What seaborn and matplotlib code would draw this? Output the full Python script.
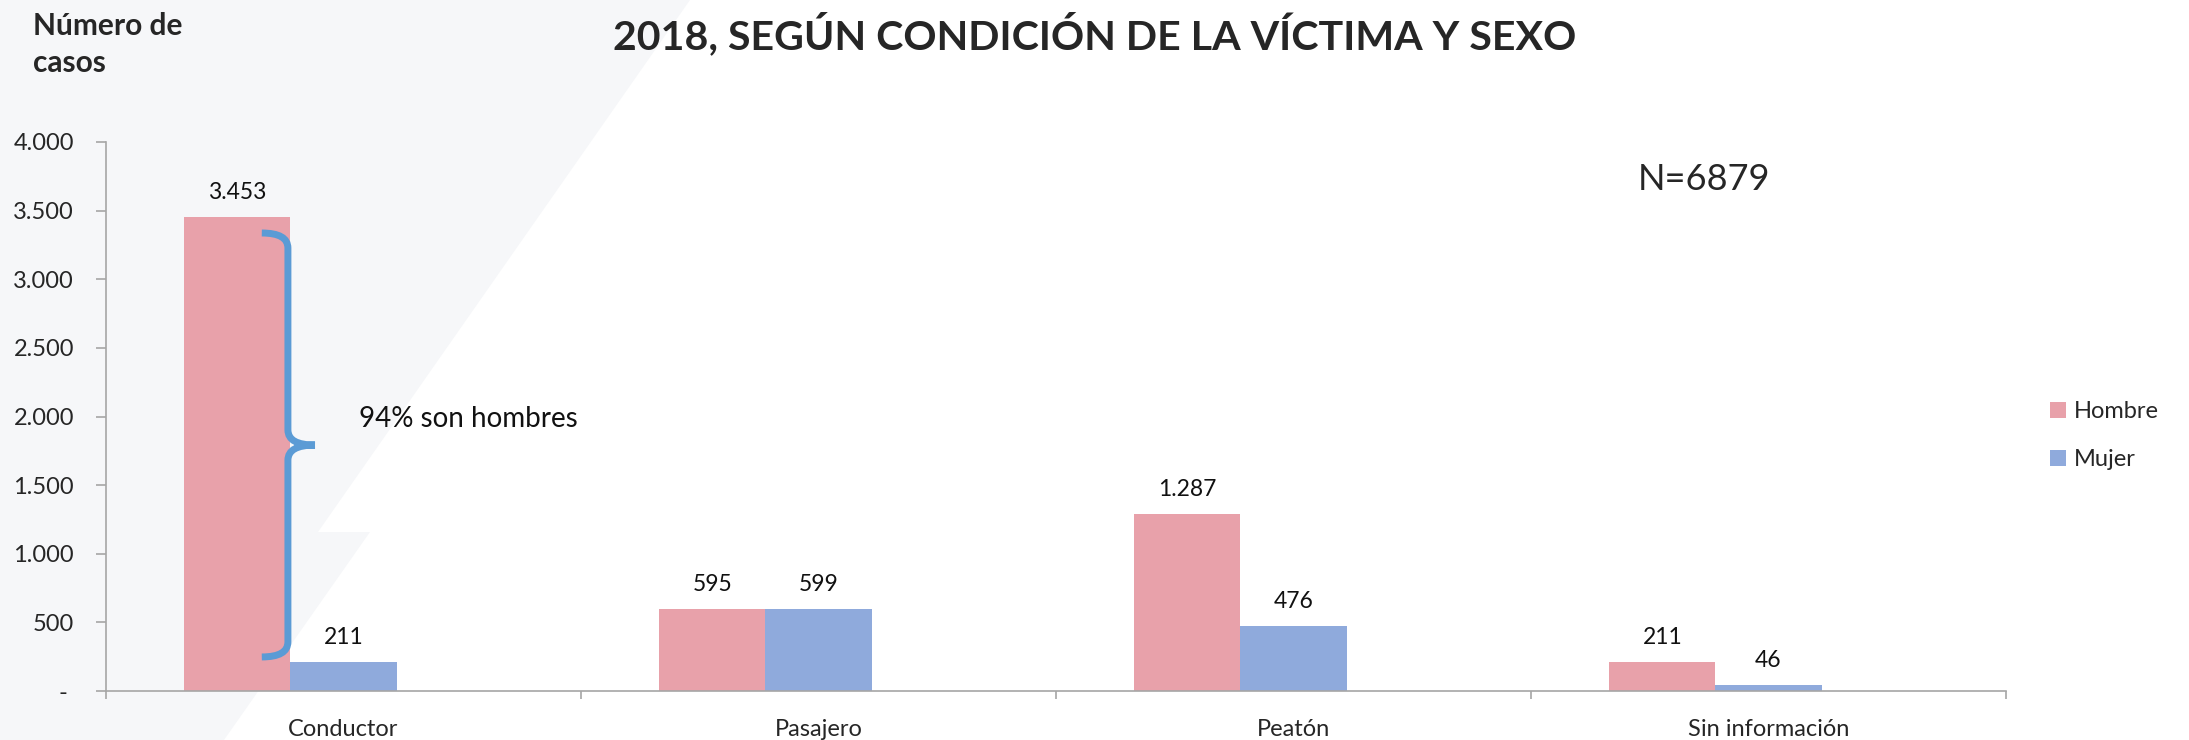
import numpy as np
import pandas as pd
import seaborn as sns
import matplotlib.pyplot as plt
from matplotlib.path import Path
from matplotlib.patches import PathPatch, Polygon
from matplotlib.ticker import FuncFormatter, FixedLocator

# data
condiciones = ['Conductor', 'Pasajero', 'Peatón', 'Sin información']
hombre = [3453, 595, 1287, 211]
mujer = [211, 599, 476, 46]
sexos = ['Hombre', 'Mujer']
total_n = 6879

titulo = '2018, SEGÚN CONDICIÓN DE LA VÍCTIMA Y SEXO'
ylabel_txt = 'Número de\ncasos'
nota_txt = '94% son hombres'

col_hombre = '#E8A1AA'
col_mujer = '#8FAADC'
col_brace = '#5B9BD5'
col_axis = '#A6A6A6'
col_bg = '#F6F7F9'

W, H = 2189, 740

sns.set_theme(style='white')
plt.rcParams['font.family'] = ['Lato', 'DejaVu Sans']

df = pd.DataFrame({'Condicion': condiciones * 2,
                   'Sexo': ['Hombre'] * 4 + ['Mujer'] * 4,
                   'Casos': hombre + mujer})

fig = plt.figure(figsize=(W / 100, H / 100), dpi=100, facecolor='white')

# faint background shapes of the slide (pixel coords)
bg = [(0, 0), (690, 0), (318, 532), (370, 532), (224, 740), (0, 740)]
fig.add_artist(Polygon([(x / W, 1 - y / H) for x, y in bg], closed=True,
                       transform=fig.transFigure, facecolor=col_bg, edgecolor='none', zorder=-10))

ax = fig.add_axes([106 / W, 1 - 691 / H, 1900 / W, (691 - 142) / H])
ax.set_facecolor('none')

# third empty hue slot keeps the Excel-like offset of the pair inside each category
sns.barplot(data=df, x='Condicion', y='Casos', hue='Sexo',
            hue_order=sexos + [' '], palette=[col_hombre, col_mujer, 'white'],
            width=0.67, gap=0, saturation=1, linewidth=0, legend=False, ax=ax)

ax.set_xlim(-0.5, 3.5)
ax.set_ylim(0, 4000)
ax.set_xlabel('')
ax.set_ylabel('')

for cont in ax.containers[:2]:
    ax.bar_label(cont, labels=[f'{v:,.0f}'.replace(',', '.') for v in cont.datavalues],
                 padding=10, fontsize=16.5, color='#111111')

ax.yaxis.set_major_locator(FixedLocator(np.arange(0, 4001, 500)))
ax.yaxis.set_major_formatter(FuncFormatter(lambda v, p: '- ' if v == 0 else f'{v:,.0f}'.replace(',', '.')))
ax.tick_params(axis='y', direction='out', length=7, width=1.2, color=col_axis,
               labelsize=17, pad=16, left=True)
ax.tick_params(axis='x', which='major', length=0, labelsize=17, pad=20)
ax.set_xticks(np.arange(-0.5, 3.6, 1), minor=True)
ax.tick_params(axis='x', which='minor', direction='out', length=6, width=1.2,
               color=col_axis, bottom=True)

for s in ['top', 'right']:
    ax.spines[s].set_visible(False)
for s in ['left', 'bottom']:
    ax.spines[s].set_color(col_axis)
    ax.spines[s].set_linewidth(1.2)

# curly brace next to the Conductor bar
bx, barm, btip = -0.117, -0.172, -0.060
btop, bmid, bbot = 3337, 1792, 248
ry = 110
verts = [(barm, btop), (bx, btop), (bx, btop - ry),
         (bx, bmid + ry), (bx, bmid), (btip, bmid),
         (btip, bmid), (bx, bmid), (bx, bmid - ry),
         (bx, bbot + ry), (bx, bbot), (barm, bbot)]
codes = [Path.MOVETO, Path.CURVE3, Path.CURVE3,
         Path.LINETO, Path.CURVE3, Path.CURVE3,
         Path.MOVETO, Path.CURVE3, Path.CURVE3,
         Path.LINETO, Path.CURVE3, Path.CURVE3]
ax.add_patch(PathPatch(Path(verts, codes), fill=False, edgecolor=col_brace,
                       linewidth=5, capstyle='butt', zorder=5))
ax.text(0.033, 1923, nota_txt, fontsize=20, va='baseline', ha='left', color='#111111')

ax.legend(ax.containers[:2], sexos, loc='center left',
          bbox_to_anchor=(2050 / W, 1 - 435.5 / H), bbox_transform=fig.transFigure,
          frameon=False, handlelength=0.68, handleheight=0.68, handletextpad=0.35,
          labelspacing=1.15, borderpad=0, borderaxespad=0, fontsize=17)

fig.text(0.5, 1 - 34 / H, titulo, ha='center', va='center', fontsize=29.6, weight='bold')
fig.text(33 / W, 1 - 12 / H, ylabel_txt, ha='left', va='top', fontsize=21.5,
         weight='bold', linespacing=1.4)
fig.text(1638 / W, 1 - 180 / H, f'N={total_n}', ha='left', va='center', fontsize=26)

fig.savefig('out.png', dpi=100, facecolor='white')
